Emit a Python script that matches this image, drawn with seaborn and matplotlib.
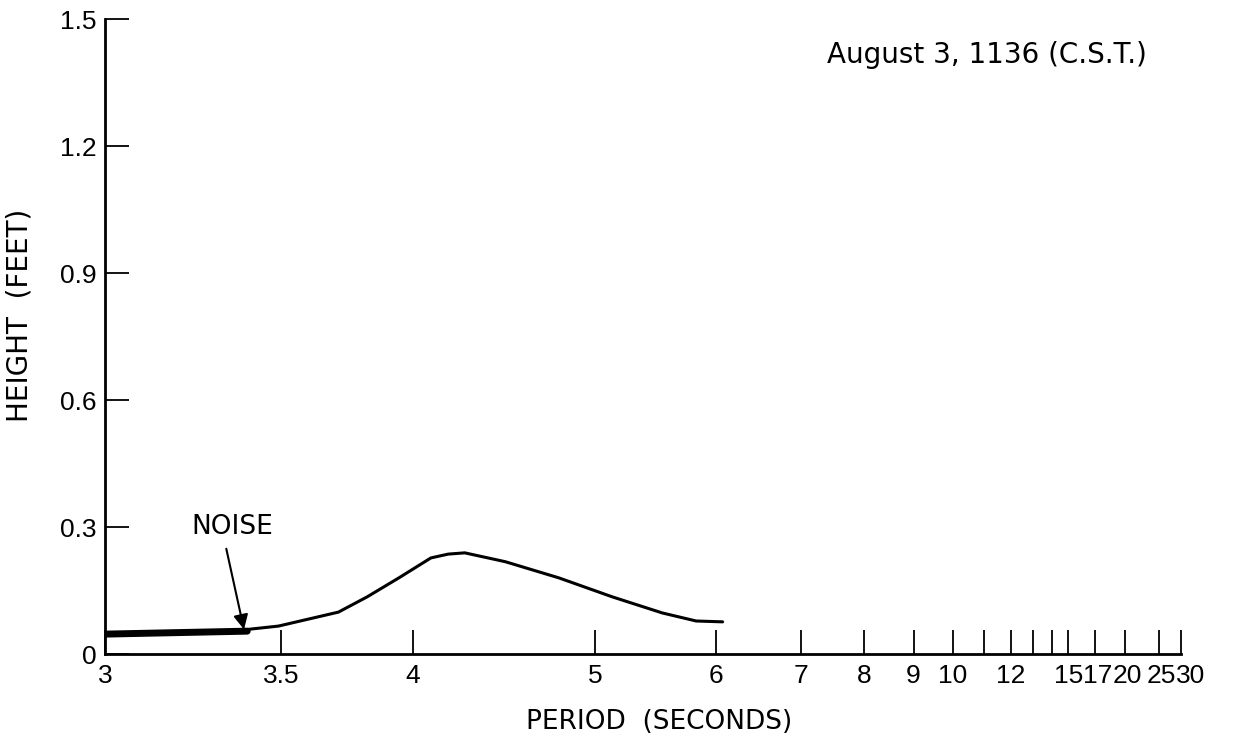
import numpy as np
import pandas as pd
import matplotlib
matplotlib.use("Agg")
import matplotlib.pyplot as plt
import matplotlib.transforms as mtransforms
import seaborn as sns

# ── Datos ─────────────────────────────────────────────────────────────────────
noise_period = [3.0, 3.39]
noise_height = [0.047, 0.054]

wave_period = [3.39, 3.49, 3.70, 3.81, 3.94, 4.08, 4.16, 4.24, 4.45, 4.76, 5.12, 5.51, 5.81, 6.07]
wave_height = [0.058, 0.066, 0.099, 0.135, 0.18, 0.227, 0.236, 0.239, 0.218, 0.18, 0.135, 0.097, 0.078, 0.076]

x_ticks = [3, 3.5, 4, 5, 6, 7, 8, 9, 10, 11, 12, 13, 14, 15, 17, 20, 25, 30]
x_labels = ["3", "3.5", "4", "5", "6", "7", "8", "9", "10", "", "12", "", "", "15", "17", "20", "25", "30"]
y_ticks = [0, 0.3, 0.6, 0.9, 1.2, 1.5]
y_labels = ["0", "0.3", "0.6", "0.9", "1.2", "1.5"]

title = "August 3, 1136 (C.S.T.)"

df_noise = pd.DataFrame({"period": noise_period, "height": noise_height})
df_wave = pd.DataFrame({"period": wave_period, "height": wave_height})

# ── Figura ────────────────────────────────────────────────────────────────────
sns.set_style("ticks")
plt.rcParams["font.family"] = ["DejaVu Sans"]
plt.rcParams["text.color"] = "black"
plt.rcParams["axes.labelcolor"] = "black"

fig = plt.figure(figsize=(12.51, 7.40), dpi=100)
ax = fig.add_axes([0.0839, 0.1162, 0.8601, 0.858])

# escala casi de frecuencia (1/T) como en el original
ax.set_xscale("function", functions=(lambda t: -np.power(t, -1.05),
                                     lambda u: np.power(-u, -1 / 1.05)))

sns.lineplot(data=df_wave, x="period", y="height", color="black", linewidth=2.2, ax=ax)
sns.lineplot(data=df_noise, x="period", y="height", color="black", linewidth=5,
             solid_capstyle="round", ax=ax)

ax.set_xlim(3, 30)
ax.set_ylim(0, 1.5)
ax.set_xticks(x_ticks)
ax.set_xticklabels(x_labels, family="Liberation Sans", fontsize=19)
ax.xaxis.set_minor_locator(matplotlib.ticker.NullLocator())
ax.set_yticks(y_ticks)
ax.set_yticklabels(y_labels, family="Liberation Sans", fontsize=19)

ax.tick_params(axis="both", direction="in", length=17, width=1.3, colors="black")
ax.tick_params(axis="x", pad=7)
ax.tick_params(axis="y", pad=6)

# etiquetas apretadas del extremo derecho: pequeño corrimiento como en el original
shift_px = {"17": 3, "20": 2, "25": 3, "30": 10}
for lab in ax.get_xticklabels():
    dx = shift_px.get(lab.get_text(), 0)
    if dx:
        lab.set_transform(lab.get_transform() +
                          mtransforms.ScaledTranslation(dx / 100, 0, fig.dpi_scale_trans))

for s in ["top", "right"]:
    ax.spines[s].set_visible(False)
for s in ["left", "bottom"]:
    ax.spines[s].set_linewidth(2)
    ax.spines[s].set_color("black")

ax.set_xlabel("PERIOD  (SECONDS)", fontsize=19)
ax.set_ylabel("HEIGHT  (FEET)", fontsize=20)
ax.xaxis.set_label_coords(0.515, -0.086)
ax.yaxis.set_label_coords(-0.066, 0.534)

ax.text(0.82, 0.943, title, transform=ax.transAxes, fontsize=20,
        ha="center", va="center")

ax.annotate("NOISE", xy=(3.38, 0.058), xytext=(3.345, 0.30),
            fontsize=19, ha="center", va="center",
            arrowprops=dict(arrowstyle="-|>", color="black", lw=1.5,
                            mutation_scale=22, relpos=(0.4, 0), shrinkA=4, shrinkB=0))

fig.savefig("out.png", dpi=100)
